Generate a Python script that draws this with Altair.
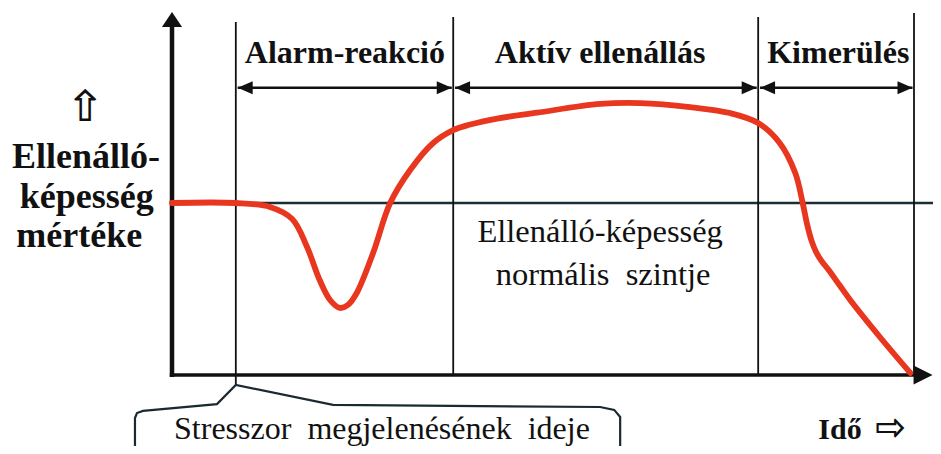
import altair as alt
import pandas as pd

# ---------------- data (time units, resistance-level units) ----------------
time = [0, 8.6, 13.2, 16.2, 18.2, 19.9, 21.3, 22.6, 23.7, 24.9, 27.1, 29.4, 32.1,
        35.2, 37.9, 40.2, 44.0, 49.2, 57.7, 63.1, 69.8, 75.2, 79.0, 81.9, 84.0,
        85.0, 85.6, 86.2, 86.8, 87.5, 88.5, 90.0, 91.4, 95.4, 99.5]
level = [100, 100, 97.7, 90.7, 74.4, 55.2, 43.6, 39.0, 40.7, 47.7, 70.9, 100,
         119.2, 134.9, 142.4, 145.6, 149.2, 152.5, 157.6, 158.1, 155.8, 152.3,
         146.5, 134.9, 117.4, 100, 87.5, 78.0, 71.5, 66.5, 61.0, 52.0, 43.6, 22.1, 1.2]
normal_level = 100
phase_bounds = [8.6, 37.9, 79.0, 100.0]
phase_names = ["Alarm-reakció", "Aktív ellenállás", "Kimerülés"]
y_title_lines = ["Ellenálló-", "képesség", "mértéke"]
normal_text = ["Ellenálló-képesség", "normális\u00a0 szintje"]
stressor_text = "Stresszor\u00a0 megjelenésének\u00a0 ideje"
x_title = "Idő"

# ---------------- layout ----------------
W, H = 925, 438
X_PX0, PX_PER_T = 164, 7.42     # pixel of t=0, pixels per time unit
Y_PX0, PX_PER_L = 367, 1.72     # pixel of level 0, pixels per level unit
XMIN, XMAX = -X_PX0 / PX_PER_T, (W - X_PX0) / PX_PER_T
YMAX, YMIN = Y_PX0 / PX_PER_L, -(H - Y_PX0) / PX_PER_L

xs = alt.Scale(domain=[XMIN, XMAX], nice=False, zero=False)
ys = alt.Scale(domain=[YMIN, YMAX], nice=False, zero=False)


def X(f):
    return alt.X(f, type="quantitative", scale=xs, axis=None)


def Y(f):
    return alt.Y(f, type="quantitative", scale=ys, axis=None)


INK = "#111111"
SERIF = "Liberation Serif"
SYM = "FreeSerif"

# normal level line
normal_df = pd.DataFrame({"x": [0], "x2": [XMAX], "y": [normal_level]})
normal_line = alt.Chart(normal_df).mark_rule(color="#1c2e35", strokeWidth=2.6).encode(
    x=X("x"), x2=alt.X2("x2"), y=Y("y"))

# phase boundaries
bound_df = pd.DataFrame({
    "x": phase_bounds,
    "y": [-5.8, 0, 0, 0],
    "y2": [205.2, 208.1, 208.1, 210.5],
})
bounds = alt.Chart(bound_df).mark_rule(color=INK, strokeWidth=1.8).encode(
    x=X("x"), y=Y("y"), y2=alt.Y2("y2"))

# axes
yaxis_df = pd.DataFrame({"x": [0], "y": [-1.2], "y2": [205]})
yaxis = alt.Chart(yaxis_df).mark_rule(color=INK, strokeWidth=4.5).encode(
    x=X("x"), y=Y("y"), y2=alt.Y2("y2"))
xaxis_df = pd.DataFrame({"x": [-0.3], "x2": [100.5], "y": [0]})
xaxis = alt.Chart(xaxis_df).mark_rule(color=INK, strokeWidth=3.5).encode(
    x=X("x"), x2=alt.X2("x2"), y=Y("y"))

up_head = alt.Chart(pd.DataFrame({"x": [0], "y": [211.0]})).mark_point(
    shape="M0,0L-0.67,1L0.67,1Z", size=900, filled=True, color=INK, opacity=1,
    strokeWidth=0).encode(x=X("x"), y=Y("y"))
right_head = alt.Chart(pd.DataFrame({"x": [102.5], "y": [0]})).mark_point(
    shape="M0,0L-1,-0.5L-1,0.5Z", size=1444, filled=True, color=INK, opacity=1,
    strokeWidth=0).encode(x=X("x"), y=Y("y"))

# double arrows for phases
ARROW_LEVEL = 167
arr_df = pd.DataFrame({
    "x": [b + 0.25 for b in phase_bounds[:-1]],
    "x2": [b - 0.2 for b in phase_bounds[1:]],
    "y": [ARROW_LEVEL] * 3,
})
arr_lines = alt.Chart(arr_df).mark_rule(color=INK, strokeWidth=2.4).encode(
    x=X("x"), x2=alt.X2("x2"), y=Y("y"))
arr_left = alt.Chart(arr_df).mark_point(
    shape="M0,0L2,-0.87L2,0.87Z", size=225, filled=True, color=INK, opacity=1,
    strokeWidth=0).encode(x=X("x"), y=Y("y"))
arr_right = alt.Chart(arr_df).mark_point(
    shape="M0,0L-2,-0.87L-2,0.87Z", size=225, filled=True, color=INK, opacity=1,
    strokeWidth=0).encode(x=X("x2"), y=Y("y"))

# red resistance curve
curve_df = pd.DataFrame({"t": time, "level": level, "o": range(len(time))})
curve = alt.Chart(curve_df).mark_line(
    color="#e8361f", strokeWidth=5.8, interpolate="catmull-rom", strokeCap="round").encode(
    x=X("t"), y=Y("level"), order="o:Q")

# callout outline for stressor
call_df = pd.DataFrame({
    "x": [-4.99, -4.99, -4.72, -3.91, 6.06, 8.6, 21.7, 57.7, 59.6, 60.4, 60.4],
    "y": [-42.0, -25.0, -22.1, -20.9, -16.9, -5.8, -17.4, -18.6, -20.3, -24.4, -42.0],
    "o": range(11),
})
callout = alt.Chart(call_df).mark_line(color="#1a2a30", strokeWidth=2.2).encode(
    x=X("x"), y=Y("y"), order="o:Q")

# texts
phase_df = pd.DataFrame({"x": [23.3, 57.7, 89.8], "y": [181.4] * 3, "txt": phase_names})
phase_txt = alt.Chart(phase_df).mark_text(
    font=SERIF, fontSize=32, fontWeight="bold", color=INK, align="center",
    baseline="alphabetic").encode(x=X("x"), y=Y("y"), text="txt")

ytitle_df = pd.DataFrame({"x": [-11.6, -11.5, -12.5], "y": [120.2, 97.0, 74.6],
                          "txt": y_title_lines})
ytitle_txt = alt.Chart(ytitle_df).mark_text(
    font=SERIF, fontSize=36, fontWeight="bold", color=INK, align="center",
    baseline="alphabetic").encode(x=X("x"), y=Y("y"), text="txt")

up_sym = alt.Chart(pd.DataFrame({"x": [-11.7], "y": [155.2], "txt": ["⇧"]})).mark_text(
    font=SYM, fontSize=44, color=INK, align="center",
    baseline="middle").encode(x=X("x"), y=Y("y"), text="txt")

normal_df2 = pd.DataFrame({"x": [57.7, 58.1], "y": [77.3, 52.3], "txt": normal_text})
normal_txt = alt.Chart(normal_df2).mark_text(
    font=SERIF, fontSize=32.5, color=INK, align="center",
    baseline="alphabetic").encode(x=X("x"), y=Y("y"), text="txt")

stress_txt = alt.Chart(pd.DataFrame({"x": [28.3], "y": [-37.4], "txt": [stressor_text]})).mark_text(
    font=SERIF, fontSize=32, color=INK, align="center",
    baseline="alphabetic").encode(x=X("x"), y=Y("y"), text="txt")

ido_txt = alt.Chart(pd.DataFrame({"x": [87.1], "y": [-37.4], "txt": [x_title]})).mark_text(
    font=SERIF, fontSize=30, fontWeight="bold", color=INK, align="left",
    baseline="alphabetic").encode(x=X("x"), y=Y("y"), text="txt")

right_sym = alt.Chart(pd.DataFrame({"x": [96.8], "y": [-30.5], "txt": ["⇨"]})).mark_text(
    font=SYM, fontSize=38, color=INK, align="center",
    baseline="middle").encode(x=X("x"), y=Y("y"), text="txt")

chart = alt.layer(
    normal_line, bounds, xaxis, yaxis, up_head, right_head,
    arr_lines, arr_left, arr_right, callout, curve,
    phase_txt, ytitle_txt, up_sym, normal_txt, stress_txt, ido_txt, right_sym,
).properties(
    width=W, height=H, autosize=alt.AutoSizeParams(type="none"), padding=0,
    background="white",
).configure_view(strokeWidth=0)

chart.save("out.html", embed_options={"renderer": "svg", "actions": False})
